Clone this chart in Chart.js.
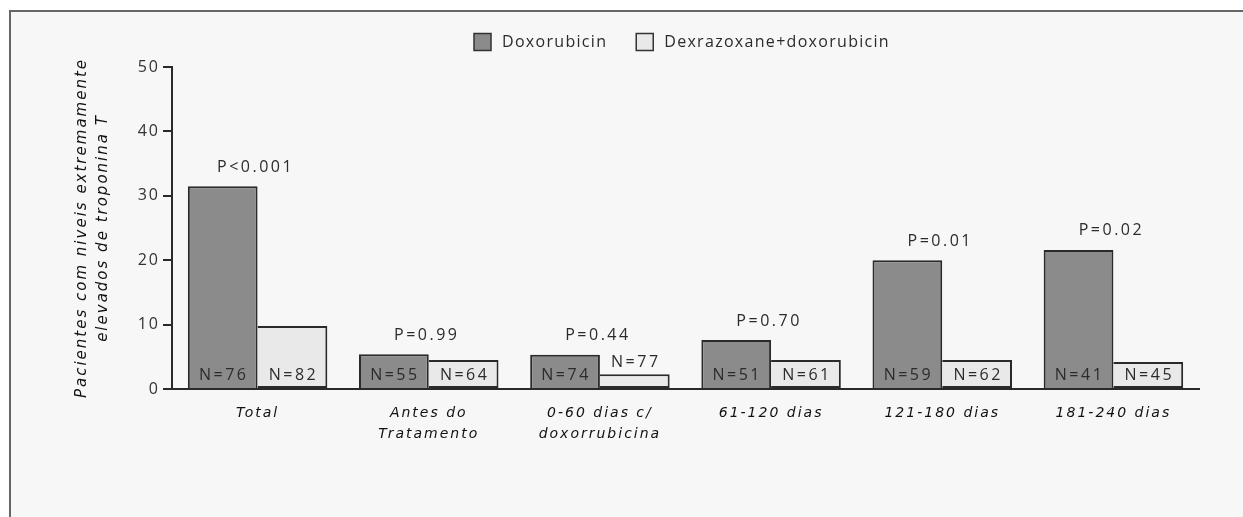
<!DOCTYPE html>
<html><head><meta charset="utf-8">
<script src="https://cdn.jsdelivr.net/npm/chart.js@4.4.1/dist/chart.umd.min.js"></script>
<style>
html,body{margin:0;padding:0;background:#fff;width:1243px;height:517px;overflow:hidden}
#frame{position:absolute;left:9px;top:10px;right:0;bottom:0;background:#f7f7f7;border-left:2px solid #666;border-top:2px solid #666}
#c{position:absolute;left:0;top:0}
</style></head><body>
<div id="frame"></div>
<canvas id="c" width="1243" height="517"></canvas>
<script>
const categories = [["Total"],["Antes do","Tratamento"],["0-60 dias c/","doxorrubicina"],["61-120 dias"],["121-180 dias"],["181-240 dias"]];
const seriesNames = ["Doxorubicin","Dexrazoxane+doxorubicin"];
const doxorubicin = [31.5, 5.4, 5.3, 7.6, 20.0, 21.6];
const dexrazoxane = [9.8, 4.5, 2.3, 4.5, 4.5, 4.2];
const pValues = ["P<0.001","P=0.99","P=0.44","P=0.70","P=0.01","P=0.02"];
const nDox = ["N=76","N=55","N=74","N=51","N=59","N=41"];
const nDex = ["N=82","N=64","N=77","N=61","N=62","N=45"];
const yTicks = [0,10,20,30,40,50];
const yTitle = ["Pacientes com niveis extremamente","elevados de troponina T"];

const darkFill = '#8b8b8b', lightFill = '#e9e9e9', edge = '#2a2a2a';

const annot = {
  id: 'annot',
  beforeDraw(chart){ chart.ctx.letterSpacing = '2px'; },
  afterDatasetsDraw(chart){
    const ctx = chart.ctx;
    const m0 = chart.getDatasetMeta(0), m1 = chart.getDatasetMeta(1);
    const y0 = chart.scales.y.getPixelForValue(0);
    ctx.save();
    ctx.font = '16px "Open Sans"';
    ctx.fillStyle = '#2b2b2b';
    ctx.textAlign = 'center';
    ctx.textBaseline = 'middle';
    ctx.letterSpacing = '2.5px';
    categories.forEach((c, i) => {
      const b0 = m0.data[i], b1 = m1.data[i];
      const gx = (b0.x + b1.x) / 2;
      const top = Math.min(b0.y, b1.y);
      ctx.fillText(pValues[i], gx - 2, top - 19);
      [[b0, nDox[i]], [b1, nDex[i]]].forEach(([b, t]) => {
        const h = y0 - b.y;
        const ty = h < 20 ? b.y - 12 : y0 - 14;
        ctx.fillText(t, b.x + 1, ty);
      });
    });
    // legend
    ctx.textAlign = 'left';
    ctx.letterSpacing = '1.3px';
    const fills = [darkFill, lightFill];
    const box = 17, gapText = 11, gapItem = 29;
    const widths = seriesNames.map(s => ctx.measureText(s).width);
    const total = widths.reduce((a, w) => a + box + gapText + w, 0) + gapItem;
    let x = 682 - total / 2;
    const ly = 42;
    seriesNames.forEach((s, i) => {
      ctx.fillStyle = fills[i];
      ctx.fillRect(x, ly - box / 2, box, box);
      ctx.strokeStyle = '#333';
      ctx.lineWidth = 1.5;
      ctx.strokeRect(x, ly - box / 2, box, box);
      ctx.fillStyle = '#2b2b2b';
      ctx.fillText(s, x + box + gapText, ly);
      x += box + gapText + widths[i] + gapItem;
    });
    ctx.restore();
  }
};

new Chart(document.getElementById('c'), {
  type: 'bar',
  data: {
    labels: categories,
    datasets: [
      {label: seriesNames[0], data: doxorubicin, backgroundColor: darkFill, borderColor: edge, borderWidth: 2, borderSkipped: 'bottom'},
      {label: seriesNames[1], data: dexrazoxane, backgroundColor: lightFill, borderColor: edge, borderWidth: 2, borderSkipped: 'left'}
    ]
  },
  options: {
    responsive: false,
    animation: false,
    devicePixelRatio: 1,
    layout: {padding: {left: 0, top: 67, right: 44, bottom: 0}},
    datasets: {bar: {categoryPercentage: 0.815, barPercentage: 1}},
    plugins: {legend: {display: false}, tooltip: {enabled: false}},
    scales: {
      x: {
        grid: {display: false, drawTicks: false},
        border: {display: true, color: edge, width: 2},
        ticks: {color: '#111', font: {family: 'DejaVu Sans', style: 'italic', size: 14, lineHeight: 1.5}, padding: 14, maxRotation: 0, autoSkip: false},
        afterFit(s){ s.height = 128; }
      },
      y: {
        min: 0, max: 50,
        afterBuildTicks(s){ s.ticks = yTicks.map(v => ({value: v})); },
        grid: {display: true, drawOnChartArea: false, drawTicks: true, tickLength: 9, color: edge, lineWidth: 2},
        border: {display: true, color: edge, width: 2},
        ticks: {color: '#333', font: {family: 'Open Sans', size: 16}, padding: 3},
        title: {display: true, text: yTitle, color: '#111', font: {family: 'DejaVu Sans', style: 'italic', size: 15, lineHeight: 1.4}, padding: {top: 72, bottom: 0}},
        afterFit(s){ s.width = 172; }
      }
    }
  },
  plugins: [annot]
});
</script>
</body></html>
